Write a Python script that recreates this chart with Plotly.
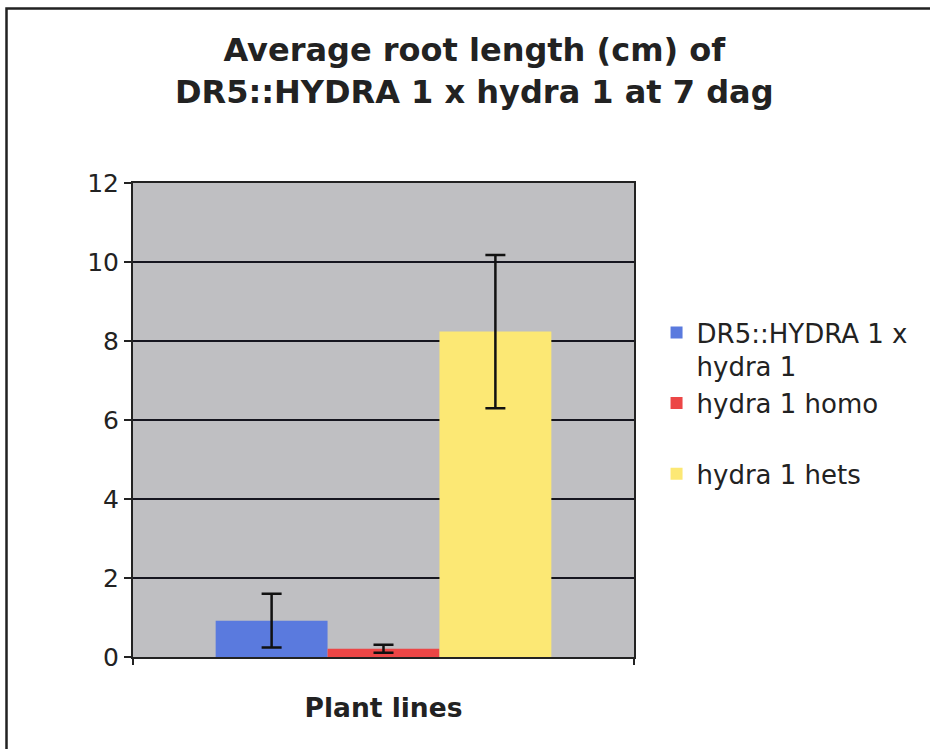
import plotly.graph_objects as go

categories = ["Plant lines"]
series_names = ["DR5::HYDRA 1 x<br>hydra 1", "hydra 1 homo<br> ", "hydra 1 hets"]
series_values = [[0.92], [0.21], [8.24]]
series_errors = [[0.68], [0.10], [1.94]]
series_colors = ["#5a7ade", "#ec4646", "#fce874"]
y_ticks = [0, 2, 4, 6, 8, 10, 12]

FONT = "Verdana, DejaVu Sans, sans-serif"

fig = go.Figure()
for name, vals, errs, col in zip(series_names, series_values, series_errors, series_colors):
    fig.add_trace(go.Bar(
        x=[""], y=vals, name=name,
        marker=dict(color=col, line=dict(width=0)),
        error_y=dict(type="data", array=errs, visible=True, color="#111111",
                     thickness=2.5, width=10),
    ))

fig.update_layout(
    width=930, height=749,
    margin=dict(l=133, r=296, t=183, b=92),
    paper_bgcolor="white",
    plot_bgcolor="#bfbfc2",
    barmode="group", bargap=0.33, bargroupgap=0,
    title=dict(text="<b>Average root length (cm) of<br>DR5::HYDRA 1 x hydra 1 at 7 dag</b>",
               x=0.51, xref="container", xanchor="center",
               y=0.9186, yref="container", yanchor="top",
               font=dict(family=FONT, size=32, color="#222222")),
    font=dict(family=FONT, color="#222222"),
    legend=dict(x=1.045, xanchor="left", y=0.734, yanchor="top",
                valign="top", font=dict(family=FONT, size=26, color="#222222"),
                bgcolor="rgba(0,0,0,0)", tracegroupgap=0),
    showlegend=True,
    xaxis=dict(title=dict(text="<b>Plant lines</b>", font=dict(size=26.5, family=FONT), standoff=40),
               showticklabels=False, ticks="outside", tickson="boundaries",
               ticklen=6, tickcolor="#222222", tickwidth=1.5,
               showline=True, linecolor="#222222", linewidth=2, mirror=True),
    yaxis=dict(range=[0, 12], tickvals=y_ticks, ticktext=[str(v) for v in y_ticks],
               ticks="outside", ticklen=7, tickcolor="#222222", tickwidth=1.5,
               tickfont=dict(size=25, family=FONT, color="#222222"),
               showgrid=True, gridcolor="#15151f", gridwidth=2,
               showline=True, linecolor="#222222", linewidth=2, mirror=True,
               zeroline=False),
)

fig.add_shape(type="rect", xref="paper", yref="paper",
              x0=(6.5 - 133) / 501, x1=(945 - 133) / 501,
              y0=(657 - 770) / 474, y1=(657 - 8.5) / 474,
              line=dict(color="#222222", width=2.5), fillcolor="rgba(0,0,0,0)", layer="below")

fig.write_html("out.html", config={"displayModeBar": False},
               post_script="document.body.style.margin='0';document.body.style.overflow='hidden';")
